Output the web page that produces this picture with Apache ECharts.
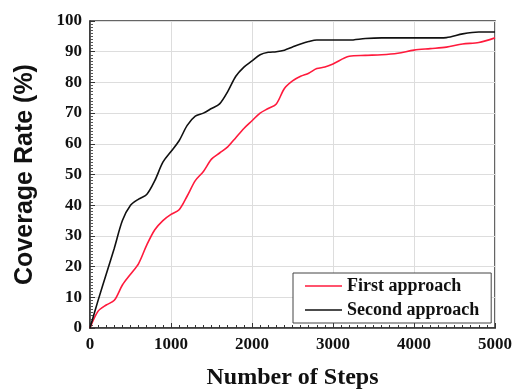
<!DOCTYPE html>
<html>
<head>
<meta charset="utf-8">
<script src="https://cdn.jsdelivr.net/npm/echarts@6/dist/echarts.min.js"></script>
<style>html,body{margin:0;padding:0;background:#fff}#c{width:520px;height:390px}</style>
</head>
<body>
<div id="c"></div>
<script>
const steps = [0,100,200,300,400,500,600,700,800,900,1000,1100,1200,1300,1400,1500,1600,1700,1800,1900,2000,2100,2200,2300,2400,2500,2600,2700,2800,2900,3000,3200,3400,3600,3800,4000,4200,4400,4600,4800,5000];
const firstApproach = [0,5.5,7.5,9,14,17.5,21,27,32,35,37,38.5,43,48,51,55,57,59,62,65,67.5,70,71.5,73,78,80.5,82,83,84.5,85,86,88.5,88.8,89,89.5,90.5,91,91.5,92.5,93,94.5];
const secondApproach = [0,9,17.5,26,35,40,42,43.5,48,54,57.5,61,66,69,70,71.5,73,77,82,85,87,89,89.8,90,90.5,91.5,92.5,93.3,93.8,93.8,93.8,93.8,94.3,94.5,94.5,94.5,94.5,94.6,95.8,96.4,96.4];
const seriesNames = ['First approach','Second approach'];
const xTitle = 'Number of Steps';
const yTitle = 'Coverage Rate (%)';

const serif = 'Liberation Serif';
const chart = echarts.init(document.getElementById('c'));
chart.setOption({
  animation:false,
  backgroundColor:'#fff',
  grid:{left:90,right:25,top:21,bottom:62,outerBoundsMode:'none',containLabel:false,show:true,borderColor:'#333',borderWidth:1.5},
  legend:{
    left:293, top:273, orient:'vertical',
    data:seriesNames,
    icon:'rect',
    itemWidth:37, itemHeight:1.5, itemGap:6,
    padding:[4,12,4,12],
    backgroundColor:'#fff', borderColor:'#444', borderWidth:1, borderRadius:0,
    textStyle:{fontFamily:serif,fontWeight:'bold',fontSize:18,color:'#111'}
  },
  xAxis:{
    type:'value', min:0, max:5000, interval:1000,
    name:xTitle, nameLocation:'middle', nameGap:38,
    nameTextStyle:{fontFamily:serif,fontWeight:'bold',fontSize:24,color:'#111'},
    axisLine:{show:true,lineStyle:{color:'#333',width:1.5}},
    axisTick:{show:true,inside:true,length:5,lineStyle:{color:'#333'}},
    minorTick:{show:true,splitNumber:10,length:3,lineStyle:{color:'#333'}},
    axisLabel:{fontFamily:serif,fontWeight:'bold',fontSize:17,color:'#111',margin:8,formatter:v=>String(v)},
    splitLine:{show:true,lineStyle:{color:'#ddd',width:1}}
  },
  yAxis:{
    type:'value', min:0, max:100, interval:10,
    name:yTitle, nameLocation:'middle', nameGap:52,
    nameTextStyle:{fontFamily:'Liberation Sans',fontWeight:'bold',fontSize:25,color:'#111'},
    axisLine:{show:true,lineStyle:{color:'#333',width:1.5}},
    axisTick:{show:true,inside:true,length:5,lineStyle:{color:'#333'}},
    minorTick:{show:true,splitNumber:10,length:3,lineStyle:{color:'#555'}},
    axisLabel:{fontFamily:serif,fontWeight:'bold',fontSize:17,color:'#111',margin:8},
    splitLine:{show:true,lineStyle:{color:'#ddd',width:1}}
  },
  series:[
    {name:seriesNames[0],type:'line',symbol:'none',smooth:0.3,
     data:steps.map((s,i)=>[s,firstApproach[i]]),
     lineStyle:{color:'#ff1a3c',width:1.6},itemStyle:{color:'#ff1a3c'}},
    {name:seriesNames[1],type:'line',symbol:'none',smooth:0.3,
     data:steps.map((s,i)=>[s,secondApproach[i]]),
     lineStyle:{color:'#111',width:1.6},itemStyle:{color:'#111'}}
  ]
});
</script>
</body>
</html>
